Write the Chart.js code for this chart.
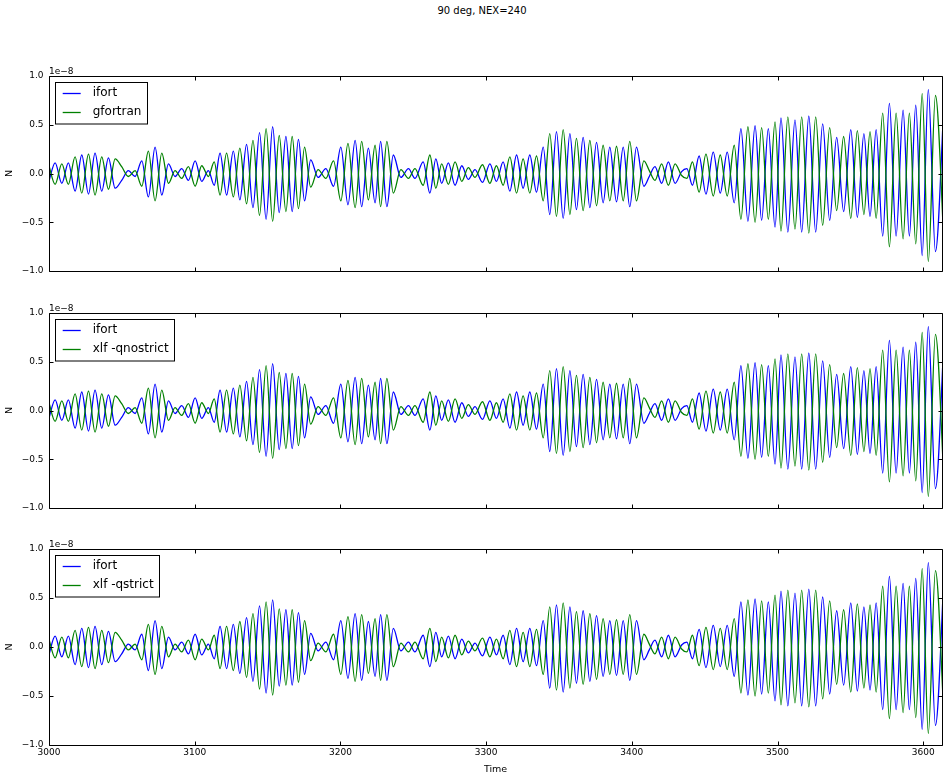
<!DOCTYPE html>
<html>
<head>
<meta charset="utf-8">
<script src="https://cdn.jsdelivr.net/npm/chart.js@4.4.1/dist/chart.umd.min.js"></script>
<style>
html,body{margin:0;padding:0;background:#fff;}
body{width:948px;height:782px;position:relative;overflow:hidden;}
canvas{position:absolute;left:0;}
#suptitle{position:absolute;left:0;width:964px;top:5px;line-height:12px;text-align:center;font-family:"DejaVu Sans";font-size:10px;color:#000;}
</style>
</head>
<body>
<div id="suptitle">90 deg, NEX=240</div>
<canvas id="p1" width="948" height="246" style="top:36px"></canvas>
<canvas id="p2" width="948" height="246" style="top:273px"></canvas>
<canvas id="p3" width="948" height="273" style="top:509px"></canvas>
<script>
// ---- data (values in units of 1e-8), read at the extrema of the curves ----
const times = [
2999.6,3004.2,3008.8,3013.3,3017.9,3022.5,3027.1,3031.6,3036.2,3040.8,
3045.4,3049.9,3054.5,3059.1,3063.7,3068.2,3072.8,3077.4,3082.0,3086.5,
3091.1,3095.7,3100.3,3104.8,3109.4,3113.4,3117.4,3121.9,3126.5,3131.0,
3135.6,3140.0,3144.5,3149.0,3153.5,3158.0,3162.6,3166.9,3171.2,3175.4,
3179.6,3184.7,3190.0,3195.3,3200.3,3205.2,3210.1,3214.6,3219.2,3223.8,
3227.6,3231.9,3236.3,3241.5,3246.7,3251.2,3256.8,3261.4,3265.5,3269.5,
3274.1,3278.7,3283.3,3287.8,3292.4,3297.5,3302.6,3307.1,3311.7,3316.3,
3320.9,3325.4,3330.0,3334.6,3339.2,3343.7,3348.3,3352.9,3357.5,3362.0,
3366.6,3371.2,3375.8,3380.3,3384.9,3389.5,3394.1,3398.6,3403.2,3408.3,
3412.0,3415.9,3420.5,3425.1,3429.7,3434.2,3437.8,3441.6,3446.2,3450.9,
3455.9,3460.7,3465.5,3470.3,3474.9,3479.7,3484.6,3489.1,3493.7,3498.3,
3502.4,3507.1,3512.0,3516.6,3521.5,3526.2,3531.0,3535.8,3540.6,3545.4,
3550.3,3554.8,3559.3,3563.5,3567.7,3572.2,3576.8,3581.4,3586.2,3590.5,
3594.9,3599.3,3603.5,3608.4,3614.5];

const ifort = [
-0.10,0.11,-0.10,0.11,-0.18,0.19,-0.21,0.21,-0.18,0.16,
-0.15,-0.07,0.03,-0.03,0.13,-0.24,0.27,-0.22,0.10,-0.03,
0.05,-0.07,0.13,-0.08,0.03,-0.12,0.21,-0.22,0.23,-0.27,
0.30,-0.35,0.42,-0.47,0.48,-0.40,0.38,-0.39,0.35,-0.28,
0.14,-0.04,0.05,-0.13,0.27,-0.32,0.34,-0.34,0.26,-0.30,
0.33,-0.34,0.19,-0.04,0.05,-0.05,0.12,-0.20,0.15,-0.10,
0.11,-0.12,0.08,-0.06,0.04,-0.09,0.10,-0.08,0.12,-0.18,
0.19,-0.15,0.19,-0.19,0.27,-0.42,0.43,-0.46,0.41,-0.37,
0.37,-0.35,0.32,-0.30,0.27,-0.29,0.27,-0.34,0.27,-0.13,
-0.03,0.07,-0.10,0.12,-0.10,0.02,0.05,-0.12,0.18,-0.21,
0.22,-0.20,0.22,-0.30,0.46,-0.49,0.49,-0.48,0.46,-0.55,
0.57,-0.60,0.55,-0.60,0.59,-0.60,0.51,-0.48,0.37,-0.39,
0.45,-0.45,0.41,-0.44,0.45,-0.64,0.72,-0.64,0.65,-0.64,
0.70,-0.84,0.86,-0.80,0.80];

const gfortran = [
0.10,-0.11,0.10,-0.11,0.17,-0.20,0.20,-0.22,0.17,-0.16,
0.15,0.07,-0.03,0.03,-0.13,0.23,-0.28,0.21,-0.10,0.03,
-0.05,0.07,-0.13,0.08,-0.03,0.12,-0.22,0.21,-0.24,0.26,
-0.31,0.34,-0.43,0.46,-0.49,0.39,-0.39,0.38,-0.36,0.27,
-0.14,0.04,-0.05,0.13,-0.28,0.31,-0.35,0.33,-0.27,0.29,
-0.34,0.33,-0.20,0.04,-0.05,0.05,-0.12,0.19,-0.15,0.10,
-0.11,0.12,-0.08,0.06,-0.04,0.09,-0.10,0.08,-0.12,0.17,
-0.20,0.15,-0.20,0.18,-0.28,0.41,-0.44,0.45,-0.42,0.36,
-0.38,0.34,-0.33,0.29,-0.28,0.28,-0.28,0.33,-0.28,0.13,
0.03,-0.07,0.10,-0.12,0.10,-0.02,-0.05,0.12,-0.19,0.20,
-0.23,0.19,-0.23,0.29,-0.47,0.48,-0.50,0.47,-0.47,0.53,
-0.59,0.58,-0.57,0.58,-0.61,0.58,-0.53,0.47,-0.38,0.38,
-0.46,0.44,-0.42,0.43,-0.46,0.62,-0.75,0.62,-0.67,0.62,
-0.72,0.82,-0.90,0.80,-0.80];

const xlfQnostrict = [
0.10,-0.11,0.10,-0.11,0.17,-0.20,0.20,-0.22,0.17,-0.16,
0.15,0.07,-0.03,0.03,-0.13,0.23,-0.28,0.21,-0.10,0.03,
-0.05,0.07,-0.13,0.08,-0.03,0.12,-0.22,0.21,-0.24,0.26,
-0.31,0.34,-0.43,0.46,-0.49,0.39,-0.39,0.38,-0.36,0.27,
-0.14,0.04,-0.05,0.13,-0.28,0.31,-0.35,0.33,-0.27,0.29,
-0.34,0.33,-0.20,0.04,-0.05,0.05,-0.12,0.19,-0.15,0.10,
-0.11,0.12,-0.08,0.06,-0.04,0.09,-0.10,0.08,-0.12,0.17,
-0.20,0.15,-0.20,0.18,-0.28,0.41,-0.44,0.45,-0.42,0.36,
-0.38,0.34,-0.33,0.29,-0.28,0.28,-0.28,0.33,-0.28,0.13,
0.03,-0.07,0.10,-0.12,0.10,-0.02,-0.05,0.12,-0.19,0.20,
-0.23,0.19,-0.23,0.29,-0.47,0.48,-0.50,0.47,-0.47,0.53,
-0.59,0.58,-0.57,0.58,-0.61,0.58,-0.53,0.47,-0.38,0.38,
-0.46,0.44,-0.42,0.43,-0.46,0.62,-0.73,0.62,-0.67,0.62,
-0.72,0.80,-0.88,0.78,-0.80];

const xlfQstrict = [
0.10,-0.11,0.10,-0.11,0.17,-0.20,0.20,-0.22,0.17,-0.16,
0.15,0.07,-0.03,0.03,-0.13,0.23,-0.28,0.21,-0.10,0.03,
-0.05,0.07,-0.13,0.08,-0.03,0.12,-0.22,0.21,-0.24,0.26,
-0.31,0.34,-0.43,0.46,-0.49,0.39,-0.39,0.38,-0.36,0.27,
-0.14,0.04,-0.05,0.13,-0.28,0.31,-0.35,0.33,-0.27,0.29,
-0.34,0.33,-0.20,0.04,-0.05,0.05,-0.12,0.19,-0.15,0.10,
-0.11,0.12,-0.08,0.06,-0.04,0.09,-0.10,0.08,-0.12,0.17,
-0.20,0.15,-0.20,0.18,-0.28,0.41,-0.44,0.45,-0.42,0.36,
-0.38,0.34,-0.33,0.29,-0.28,0.28,-0.28,0.33,-0.28,0.13,
0.03,-0.07,0.10,-0.12,0.10,-0.02,-0.05,0.12,-0.19,0.20,
-0.23,0.19,-0.23,0.29,-0.47,0.48,-0.50,0.47,-0.47,0.53,
-0.59,0.58,-0.57,0.58,-0.61,0.58,-0.53,0.47,-0.38,0.38,
-0.46,0.44,-0.42,0.43,-0.46,0.62,-0.73,0.62,-0.67,0.62,
-0.72,0.80,-0.88,0.78,-0.80];

const xTicks = [3000,3100,3200,3300,3400,3500,3600];
const yTicks = [-1.0,-0.5,0.0,0.5,1.0];
const X_MIN = 3000, X_MAX = 3612.9;
const Y_MIN = -1.0, Y_MAX = 1.0;
const OFFSET_TEXT = '1e\u22128';
const X_LABEL = 'Time', Y_LABEL = 'N';

Chart.defaults.font.family = '"DejaVu Sans", sans-serif';
Chart.defaults.color = '#000';

function fmtY(v){ return (v < 0 ? '\u2212' : '') + Math.abs(v).toFixed(1); }

const axesPlugin = {
  id: 'mplAxes',
  afterDatasetsDraw(chart) {
    const {ctx, chartArea: a, scales: {x, y}} = chart;
    ctx.save();
    ctx.strokeStyle = '#000';
    ctx.lineWidth = 1;
    const L = Math.round(a.left) + 0.5, R = Math.round(a.right) + 0.5;
    const T = Math.round(a.top) + 0.5, B = Math.round(a.bottom) + 0.5;
    ctx.beginPath();
    ctx.rect(L, T, R - L, B - T);
    xTicks.forEach(v => {
      const px = Math.round(x.getPixelForValue(v)) + 0.5;
      ctx.moveTo(px, B); ctx.lineTo(px, B - 4);
      ctx.moveTo(px, T); ctx.lineTo(px, T + 4);
    });
    yTicks.forEach(v => {
      const py = Math.round(y.getPixelForValue(v)) + 0.5;
      ctx.moveTo(L, py); ctx.lineTo(L + 4, py);
      ctx.moveTo(R, py); ctx.lineTo(R - 4, py);
    });
    ctx.stroke();
    // offset text
    ctx.fillStyle = '#000';
    ctx.font = '9px "DejaVu Sans"';
    ctx.textAlign = 'left';
    ctx.textBaseline = 'alphabetic';
    ctx.fillText(OFFSET_TEXT, a.left, a.top - 2.5);
    // legend (upper left, inside axes)
    ctx.font = '12px "DejaVu Sans"';
    const ds = chart.data.datasets;
    let maxW = 0;
    ds.forEach(d => { maxW = Math.max(maxW, ctx.measureText(d.label).width); });
    const bx = Math.round(a.left + 6) + 0.5, by = Math.round(a.top + 6) + 0.5;
    const textX = a.left + 43.7;
    const bw = Math.round(textX + maxW + 6 - bx), bh = 41.5;
    ctx.fillStyle = '#fff';
    ctx.fillRect(bx, by, bw, bh);
    ctx.strokeStyle = '#000';
    ctx.strokeRect(bx, by, bw, bh);
    ds.forEach((d, i) => {
      const ry = a.top + 16.7 + i * 19;
      ctx.strokeStyle = d.borderColor;
      ctx.lineWidth = 1.3;
      ctx.beginPath();
      ctx.moveTo(a.left + 13.7, Math.round(ry) + 0.5);
      ctx.lineTo(a.left + 31.7, Math.round(ry) + 0.5);
      ctx.stroke();
      ctx.fillStyle = '#000';
      ctx.textBaseline = 'middle';
      ctx.fillText(d.label, textX, ry + 0.5);
    });
    ctx.restore();
  }
};

function makePanel(id, greenLabel, greenValues, showX) {
  return new Chart(document.getElementById(id), {
    type: 'line',
    data: {
      datasets: [
        {label: 'ifort', data: times.map((t, i) => ({x: t, y: ifort[i]})),
         borderColor: '#0000ff', borderWidth: 1.3, order: 1, clip: 0},
        {label: greenLabel, data: times.map((t, i) => ({x: t, y: greenValues[i]})),
         borderColor: '#008000', borderWidth: 1.3, order: 0, clip: 0}
      ]
    },
    options: {
      responsive: false,
      animation: false,
      devicePixelRatio: 1,
      events: [],
      layout: {padding: {top: 40, left: 0, right: 6, bottom: 0}},
      elements: {
        point: {radius: 0},
        line: {cubicInterpolationMode: 'monotone', fill: false}
      },
      plugins: {legend: {display: false}, tooltip: {enabled: false}},
      scales: {
        x: {
          type: 'linear', min: X_MIN, max: X_MAX,
          grid: {display: false, drawTicks: false},
          border: {display: false},
          ticks: {display: showX, padding: 2.5, font: {size: 9}, color: '#000', callback: v => String(v)},
          title: {display: showX, text: X_LABEL, font: {size: 9.5}, color: '#000', padding: {top: 0, bottom: 7}},
          afterBuildTicks: s => { s.ticks = xTicks.map(v => ({value: v})); },
          afterFit: s => { s.height = showX ? 37 : 10; }
        },
        y: {
          type: 'linear', min: Y_MIN, max: Y_MAX,
          grid: {display: false, drawTicks: false},
          border: {display: false},
          ticks: {padding: 5.5, font: {size: 9}, color: '#000', callback: fmtY},
          title: {display: true, text: Y_LABEL, font: {size: 9.5}, color: '#000', padding: {top: 4, bottom: 0}},
          afterBuildTicks: s => { s.ticks = yTicks.map(v => ({value: v})); },
          afterFit: s => { s.width = 49; }
        }
      }
    },
    plugins: [axesPlugin]
  });
}

makePanel('p1', 'gfortran', gfortran, false);
makePanel('p2', 'xlf -qnostrict', xlfQnostrict, false);
makePanel('p3', 'xlf -qstrict', xlfQstrict, true);
</script>
</body>
</html>
